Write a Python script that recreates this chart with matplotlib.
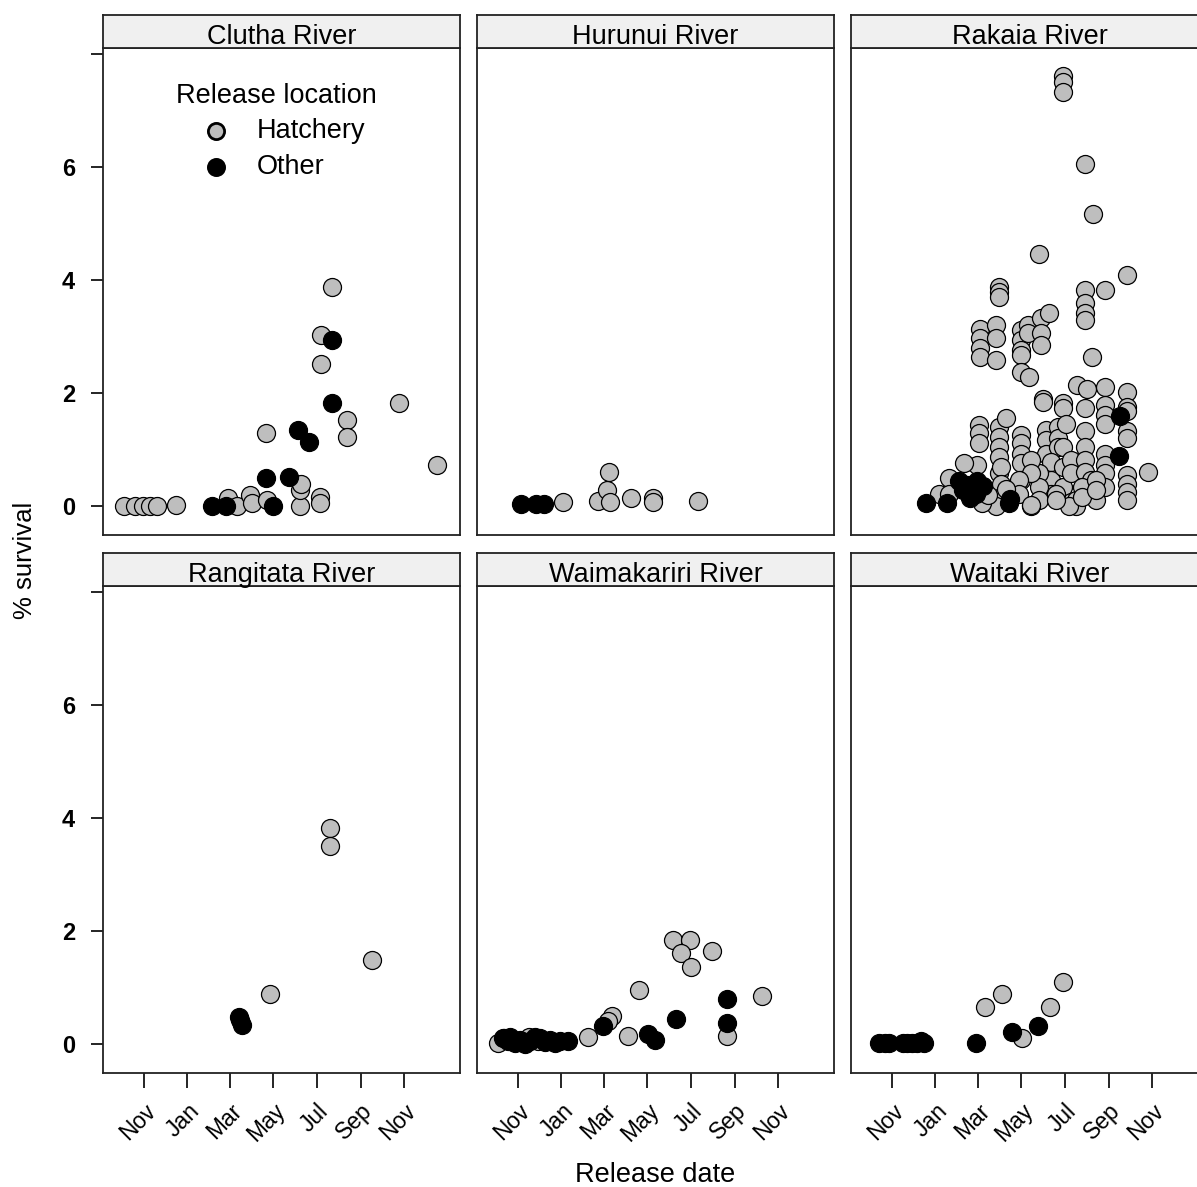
import numpy as np
import pandas as pd
import matplotlib
matplotlib.use("Agg")
import matplotlib.pyplot as plt
import matplotlib.dates as mdates

plt.rcParams['font.family'] = ['Liberation Sans', 'DejaVu Sans']

# days after 1 Nov (season start) and % survival
clutha_hatch_day = [-28, -13, -1, 8, 18, 45, 118, 131, 149, 152, 173, 220, 220, 221, 248, 248,
                    172, 249, 249, 265, 286, 286, 359, 413]
clutha_hatch_pct = [0, 0, 0, 0, 0, 0.02, 0.14, 0, 0.19, 0.05, 0.1, 0, 0.28, 0.4, 0.16, 0.05,
                    1.3, 3.03, 2.51, 3.88, 1.52, 1.22, 1.82, 0.73]
clutha_other_day = [96, 116, 182, 172, 204, 217, 232, 265, 265]
clutha_other_pct = [0, 0, 0, 0.5, 0.52, 1.35, 1.14, 1.82, 2.93]

hurunui_hatch_day = [63, 113, 125, 130, 128, 159, 190, 190, 254]
hurunui_hatch_pct = [0.08, 0.09, 0.28, 0.08, 0.61, 0.15, 0.15, 0.08, 0.09]
hurunui_other_day = [4, 25, 37]
hurunui_other_pct = [0.03, 0.03, 0.03]

rakaia_hatch_day = [240, 240, 240, 271, 283, 207, 331,
                    151, 151, 151, 271, 271, 271, 271, 300,
                    124, 124, 124, 124, 146, 146, 146,
                    181, 181, 181, 181, 191, 191, 210, 210, 210, 221,
                    182, 193, 281, 212, 212, 240, 240, 261, 274, 271,
                    300, 300, 300, 300, 331, 331, 331, 331, 331, 361,
                    331, 331, 331, 331, 300, 300, 300, 300,
                    123, 123, 123, 151, 151, 151, 151, 151, 161,
                    181, 181, 181, 181, 181, 217, 217, 217, 233, 233, 233, 245,
                    224, 224, 224, 240, 240, 240, 252, 252, 252,
                    271, 271, 271, 271, 280, 280, 287, 259, 259, 249,
                    207, 207, 207, 195, 195, 195, 179, 179, 153, 153, 153,
                    146, 127, 120, 101, 80, 66, 80, 195, 231, 231, 268, 268, 287, 287,
                    160, 110, 135]
rakaia_hatch_pct = [7.6, 7.5, 7.32, 6.05, 5.16, 4.45, 4.08,
                    3.88, 3.79, 3.7, 3.82, 3.59, 3.41, 3.29, 3.82,
                    3.14, 2.97, 2.79, 2.64, 3.2, 2.97, 2.58,
                    3.12, 2.94, 2.76, 2.67, 3.2, 3.06, 3.32, 3.06, 2.85, 3.41,
                    2.38, 2.29, 2.64, 1.9, 1.85, 1.82, 1.73, 2.14, 2.08, 1.73,
                    2.11, 1.79, 1.61, 1.46, 2.02, 1.76, 1.68, 1.32, 1.2, 0.61,
                    0.55, 0.4, 0.25, 0.11, 0.93, 0.73, 0.58, 0.34,
                    1.43, 1.29, 1.11, 1.4, 1.23, 1.05, 0.87, 0.58, 1.55,
                    1.26, 1.11, 0.93, 0.76, 0.46, 1.35, 1.17, 0.93, 1.4, 1.2, 1.05, 1.46,
                    0.78, 0.46, 0.22, 1.05, 0.7, 0.34, 0.81, 0.58, 0.08,
                    1.32, 1.05, 0.81, 0.61, 0.46, 0.22, 0.11, 0.11, 0, 0,
                    0.58, 0.34, 0.11, 0.81, 0.58, 0, 0.46, 0.22, 0.7, 0.4, 0.16,
                    0, 0.05, 0.73, 0.76, 0.49, 0.22, 0.22, 0.02, 0.22, 0.11, 0.34, 0.16, 0.46, 0.28,
                    0.3, 0.3, 0.2]
rakaia_other_day = [47, 77, 94, 105, 112, 120, 128, 110, 118, 100, 166, 164, 321, 319]
rakaia_other_pct = [0.06, 0.06, 0.45, 0.38, 0.3, 0.45, 0.35, 0.15, 0.22, 0.28, 0.12, 0.05, 1.59, 0.88]

rangitata_hatch_day = [262, 262, 321, 178]
rangitata_hatch_pct = [3.83, 3.5, 1.49, 0.89]
rangitata_other_day = [133, 135, 138]
rangitata_other_pct = [0.48, 0.42, 0.34]

waimak_hatch_day = [-29, -20, 15, 28, 99, 132, 127, 155, 170, 218, 242, 230, 244, 273, 294, 344]
waimak_hatch_pct = [0.02, 0.1, 0.12, 0.05, 0.12, 0.5, 0.41, 0.15, 0.95, 1.85, 1.85, 1.62, 1.37,
                    1.65, 0.14, 0.85]
waimak_other_day = [-21, -15, -11, -4, 3, 10, 17, 24, 31, 38, 45, 52, 59, 70,
                    120, 183, 193, 223, 294, 294]
waimak_other_pct = [0.1, 0.05, 0.12, 0.02, 0.08, 0.0, 0.05, 0.12, 0.1, 0.04, 0.07, 0.02, 0.06, 0.05,
                    0.32, 0.18, 0.07, 0.44, 0.79, 0.38]

waitaki_hatch_day = [131, 155, 183, 223, 240]
waitaki_hatch_pct = [0.66, 0.88, 0.1, 0.66, 1.1]
waitaki_other_day = [-18, -10, -4, 15, 21, 28, 35, 40, 45, 118, 169, 205]
waitaki_other_pct = [0.02, 0.02, 0.02, 0.02, 0.02, 0.02, 0.02, 0.05, 0.02, 0.02, 0.22, 0.32]

rivers = ["Clutha River", "Hurunui River", "Rakaia River",
          "Rangitata River", "Waimakariri River", "Waitaki River"]
panels = [
    (clutha_hatch_day, clutha_hatch_pct, clutha_other_day, clutha_other_pct),
    (hurunui_hatch_day, hurunui_hatch_pct, hurunui_other_day, hurunui_other_pct),
    (rakaia_hatch_day, rakaia_hatch_pct, rakaia_other_day, rakaia_other_pct),
    (rangitata_hatch_day, rangitata_hatch_pct, rangitata_other_day, rangitata_other_pct),
    (waimak_hatch_day, waimak_hatch_pct, waimak_other_day, waimak_other_pct),
    (waitaki_hatch_day, waitaki_hatch_pct, waitaki_other_day, waitaki_other_pct),
]
tick_dates = ["1999-11-01", "2000-01-01", "2000-03-01", "2000-05-01",
              "2000-07-01", "2000-09-01", "2000-11-01"]

base = pd.Timestamp("1999-11-01")


def to_dates(days):
    return base + pd.to_timedelta(np.array(days, dtype=float), unit="D")


W, H = 1197, 1187
fig = plt.figure(figsize=(W / 100, H / 100), dpi=100)

col_left = [103, 477, 851]
panel_w = 357
row_top = [48, 586]
panel_h = 487
strip_h = 33

gray = "#bebebe"
ms = 168

for i, river in enumerate(rivers):
    r, c = divmod(i, 3)
    x0 = col_left[c]
    y0 = row_top[r]
    ax = fig.add_axes([x0 / W, 1 - (y0 + panel_h) / H, panel_w / W, panel_h / H])
    hd, hp, od, op = panels[i]
    ax.scatter(to_dates(hd), hp, s=ms, c=gray, edgecolors="black", linewidths=0.9,
               label="Hatchery", zorder=3)
    ax.scatter(to_dates(od), op, s=ms, c="black", edgecolors="black", linewidths=0.9,
               label="Other", zorder=4)
    ax.set_xlim(base - pd.Timedelta(days=58), base + pd.Timedelta(days=445))
    ax.set_ylim(-0.51, 8.1)
    for sp in ax.spines.values():
        sp.set_linewidth(1.3)
        sp.set_color("#222222")

    if c == 0:
        ax.set_yticks([0, 2, 4, 6, 8])
        ax.set_yticklabels(["0", "2", "4", "6", ""])
        ax.tick_params(axis="y", direction="out", length=9, width=1.2, pad=11,
                       labelsize=17)
        for lab in ax.get_yticklabels():
            lab.set_fontfamily(["Liberation Sans Narrow", "Liberation Sans"])
            lab.set_fontweight("bold")
    else:
        ax.set_yticks([])

    if r == 1:
        ax.set_xticks(pd.to_datetime(tick_dates))
        ax.xaxis.set_major_formatter(mdates.DateFormatter("%b"))
        ax.tick_params(axis="x", direction="out", length=11, width=1.2, pad=8)
        for lab in ax.get_xticklabels():
            lab.set_fontsize(16.5)
            lab.set_rotation(45)
            lab.set_ha("right")
            lab.set_va("top")
            lab.set_rotation_mode("anchor")
    else:
        ax.set_xticks([])

    sax = fig.add_axes([x0 / W, 1 - y0 / H, panel_w / W, strip_h / H])
    sax.set_facecolor("#f0f0f0")
    sax.set_xticks([])
    sax.set_yticks([])
    for sp in sax.spines.values():
        sp.set_linewidth(1.3)
        sp.set_color("#222222")
    sax.text(0.5, 0.12, river, ha="center", va="baseline", fontsize=19.5,
             transform=sax.transAxes)

    if i == 0:
        leg = ax.legend(loc="upper center", bbox_to_anchor=(0.487, 0.951), frameon=False,
                        borderaxespad=0, title="Release location", fontsize=19.5,
                        title_fontsize=19.5, markerscale=0.9, handlelength=2.0,
                        handletextpad=0.5, labelspacing=0.36)
        for h in leg.legend_handles:
            h.set_linewidth(2)

fig.text(25 / W, 1 - 560 / H, "% survival", rotation=90, ha="center", va="center",
         fontsize=18.5)
fig.text(655 / W, 1 - 1175 / H, "Release date", ha="center", va="center", fontsize=19.5)

fig.savefig("out.png", dpi=100)
